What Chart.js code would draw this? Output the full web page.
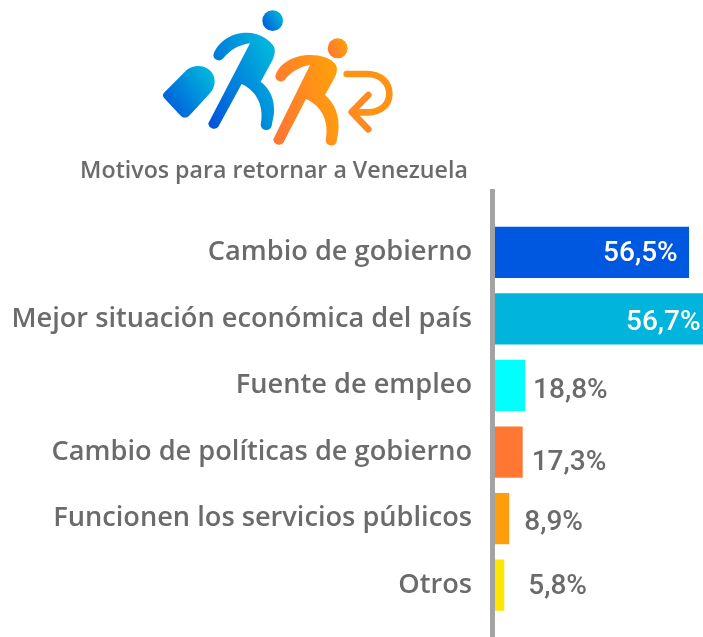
<!DOCTYPE html>
<html>
<head>
<meta charset="utf-8">
<style>
  html, body { margin: 0; padding: 0; background: #fff; overflow: hidden; }
  #wrap { position: relative; width: 703px; height: 637px; }
  #logo { position: absolute; left: 150px; top: 0; width: 340px; height: 190px; }
  #title { position: absolute; left: 0; width: 548px; top: 153px; text-align: center;
    font: 600 23.2px "Open Sans", sans-serif; color: #6b6b6b; white-space: nowrap; }
  canvas { display: block; }
</style>
<script src="https://cdn.jsdelivr.net/npm/chart.js@4/dist/chart.umd.min.js"></script>
</head>
<body>
<div id="wrap">
  <svg id="logo" viewBox="0 0 1020 570">
    <defs>
      <linearGradient id="blue" x1="0" y1="1" x2="1" y2="0.3">
        <stop offset="0" stop-color="#0050dc"/><stop offset="1" stop-color="#00b4dc"/>
      </linearGradient>
      <linearGradient id="orange" x1="0" y1="0.8" x2="1" y2="0.5">
        <stop offset="0" stop-color="#ff7533"/><stop offset="1" stop-color="#ff9e0d"/>
      </linearGradient>
    </defs>
    <circle cx="368" cy="62" r="31" fill="url(#blue)"/>
    <path fill="url(#blue)" d="M190,165 C200,130 240,98 290,98 C330,98 360,120 372,140 C378,155 372,170 365,185 L332,245 C360,265 375,300 372,340 L365,378 A17,17 0 0 1 332,375 C340,340 335,280 275,252 L205,380 A17,17 0 0 1 175,370 L300,130 C265,135 240,150 220,175 A17,17 0 0 1 190,165 Z"/>
    <path fill="url(#blue)" d="M45,275 L110,210 C135,190 175,195 190,225 C200,250 190,270 175,285 L120,345 C110,355 100,355 92,347 L45,297 C37,288 37,283 45,275 Z"/>
    <circle cx="563" cy="145" r="30" fill="url(#orange)"/>
    <path fill="url(#orange)" d="M376,228 C385,195 425,165 480,165 C515,165 545,175 558,195 C565,210 558,225 550,240 L525,285 C555,310 570,350 565,395 L560,425 A17,17 0 0 1 527,420 C535,385 530,325 468,297 L400,428 A17,17 0 0 1 370,418 L480,195 C450,200 425,215 408,235 A17,17 0 0 1 376,228 Z"/>
    <path fill="none" stroke="#ff9414" stroke-width="20" stroke-linecap="round" stroke-linejoin="round" d="M590,222 L650,222 C695,222 718,250 718,282 C718,315 690,337 655,337 L608,337"/>
    <path fill="none" stroke="#ff8a22" stroke-width="20" stroke-linecap="round" stroke-linejoin="round" d="M655,285 L605,336 L655,388"/>
  </svg>
  <div id="title">Motivos para retornar a Venezuela</div>
  <canvas id="chart" width="703" height="637"></canvas>
</div>
<script>
const categories = [
  "Cambio de gobierno",
  "Mejor situación económica del país",
  "Fuente de empleo",
  "Cambio de políticas de gobierno",
  "Funcionen los servicios públicos",
  "Otros",
];
// printed percentages
const printedValues = ["56,5%", "56,7%", "18,8%", "17,3%", "8,9%", "5,8%"];
// bar lengths as drawn in the source; the top two are longer than their percentages
const drawnValues = [121.3, 130, 18.8, 17.3, 8.9, 5.8];
const barColors = ["#0057e0", "#00b4dc", "#00ffff", "#ff7733", "#ff9e0d", "#ffe600"];

const TEXT_GREY = "#6b6b6b";
const AXIS_GREY = "#a3a3a3";

// label offset from the bar end, tweaked by hand per bar
const labelDx = [-86, -77, 8, 9, 15, 24];
const labelDy = [2, 4, 6, 11, 4, 2];

const valueLabels = {
  id: "valueLabels",
  afterDatasetsDraw(chart) {
    const ctx = chart.ctx;
    const bars = chart.getDatasetMeta(0).data;
    ctx.save();
    ctx.font = "500 28px Roboto";
    ctx.textBaseline = "middle";
    bars.forEach((bar, i) => {
      ctx.fillStyle = i < 2 ? "#ffffff" : TEXT_GREY;
      ctx.fillText(printedValues[i], bar.x + labelDx[i], bar.y + labelDy[i]);
    });
    ctx.restore();
  },
};

// the vertical rule runs past the first and last category
const axisRule = {
  id: "axisRule",
  afterDraw(chart) {
    const ctx = chart.ctx;
    const { left, top } = chart.chartArea;
    ctx.save();
    ctx.fillStyle = AXIS_GREY;
    ctx.fillRect(left - 5, top - 30, 5, chart.height - top + 30);
    ctx.restore();
  },
};

new Chart(document.getElementById("chart"), {
  type: "bar",
  data: {
    labels: categories,
    datasets: [{
      data: drawnValues,
      backgroundColor: barColors,
      borderWidth: 0,
      categoryPercentage: 1,
      barPercentage: 0.77,
    }],
  },
  options: {
    indexAxis: "y",
    responsive: false,
    animation: false,
    layout: { padding: { top: 219, bottom: 18.5, left: 0, right: 0 } },
    plugins: { legend: { display: false }, tooltip: { enabled: false } },
    scales: {
      x: { display: false, min: 0, max: 130 },
      y: {
        afterFit(scale) {
          scale.width = 495;
          // tick padding would otherwise eat into the plot height
          scale.paddingTop = 0;
          scale.paddingBottom = 0;
        },
        grid: { display: false, drawTicks: false },
        border: { display: false },
        ticks: { color: TEXT_GREY, padding: 23, font: { family: "Open Sans", size: 27.2, weight: "600" } },
      },
    },
  },
  plugins: [valueLabels, axisRule],
});
</script>
</body>
</html>
